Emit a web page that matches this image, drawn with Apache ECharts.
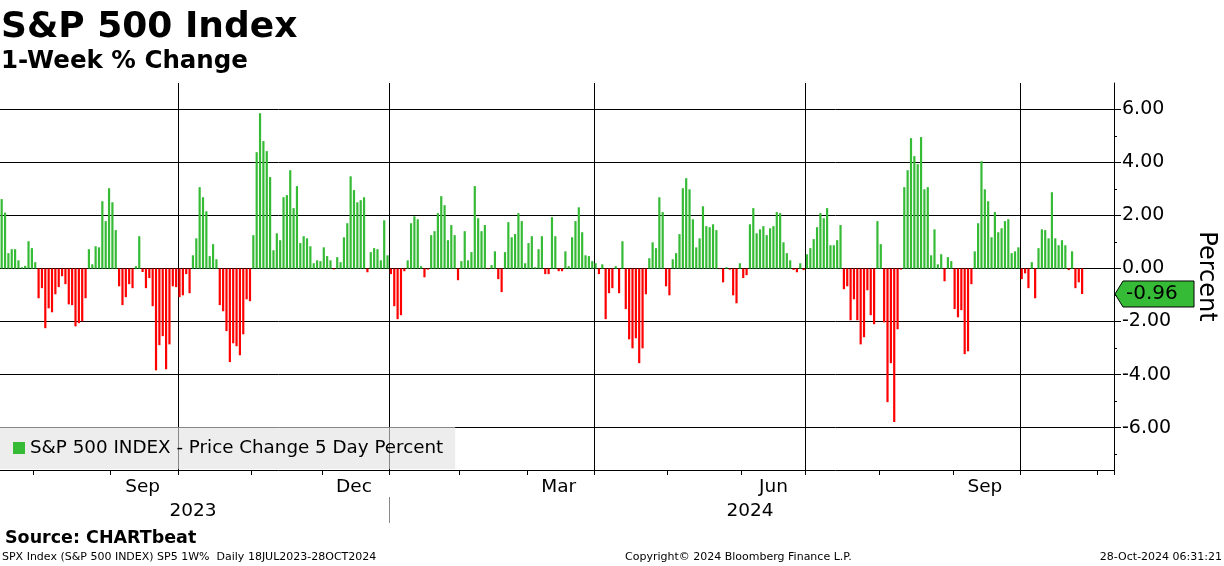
<!DOCTYPE html>
<html><head><meta charset="utf-8">
<script src="https://cdn.jsdelivr.net/npm/echarts@6/dist/echarts.min.js"></script>
<style>html,body{margin:0;padding:0;background:#fff}#c{width:1224px;height:566px}</style>
</head><body><div id="c"></div>
<script>
// ---- data ----
const firstDay = '2023-07-18';
const lastAxisDay = '2024-11-07';
const holidays = ['2023-09-04','2023-11-23','2023-12-25','2024-01-01','2024-01-15','2024-02-19',
  '2024-03-29','2024-05-27','2024-06-19','2024-07-04','2024-09-02'];
const seriesName = 'S&P 500 INDEX - Price Change 5 Day Percent';
// 1-week % change, one value per trading day from 18 Jul 2023 to 25 Oct 2024
const weeklyChange = [
  2.62, 2.11, 0.58, 0.73, 0.73, 0.31, 0.05, 0.10, 1.03, 0.77,
  0.24, -1.12, -0.74, -2.25, -1.50, -1.65, -0.97, -0.70, -0.29, -0.59,
  -1.35, -1.38, -2.18, -2.06, -1.99, -1.12, 0.73, 0.16, 0.84, 0.80,
  2.54, 1.79, 3.03, 2.50, 1.45, -0.67, -1.38, -1.08, -0.59, -0.74,
  0.09, 1.22, -0.13, -0.74, -0.36, -1.42, -3.84, -2.89, -2.55, -3.80,
  -2.86, -0.67, -0.70, -1.08, -1.01, -0.21, -0.93, 0.50, 1.14, 3.07,
  2.69, 2.16, 0.47, 0.92, 0.35, -1.38, -1.61, -2.36, -3.53, -2.82,
  -2.93, -3.27, -2.48, -1.16, -1.23, 1.26, 4.39, 5.86, 4.81, 4.43,
  3.45, 0.69, 1.33, 1.07, 2.69, 2.77, 3.71, 2.28, 3.11, 0.96,
  1.22, 1.14, 0.84, 0.20, 0.31, 0.28, 0.80, 0.47, 0.31, -0.03,
  0.43, 0.24, 1.18, 1.71, 3.48, 2.96, 2.50, 2.58, 2.69, -0.14,
  0.62, 0.77, 0.73, 0.31, 1.82, 0.50, -0.21, -1.42, -1.91, -1.76,
  -0.10, 0.31, 1.71, 1.97, 1.86, 0.09, -0.33, -0.04, 1.26, 1.41,
  2.09, 2.73, 2.39, 1.07, 1.64, 1.26, -0.44, 0.28, 1.41, 0.31,
  0.62, 3.11, 1.90, 1.41, 1.64, -0.02, 0.13, 0.65, -0.40, -0.89,
  0.62, 1.75, 1.18, 1.30, 2.09, 1.79, 0.20, 0.96, 1.22, 0.05,
  0.73, 1.22, -0.21, -0.21, 1.94, 1.22, -0.10, -0.10, 0.65, 0.09,
  1.18, 1.79, 2.31, 1.37, 0.50, 0.47, 0.28, 0.20, -0.21, 0.16,
  -1.91, -0.93, -0.74, 0.09, -0.93, 1.03, -1.53, -2.67, -3.01, -2.63,
  -3.57, -3.01, -0.97, 0.39, 0.99, 0.77, 2.69, 2.13, -0.67, -1.01,
  0.35, 0.58, 1.30, 3.03, 3.41, 2.99, 1.86, 0.80, 1.14, 2.35,
  1.60, 1.56, 1.67, 1.45, -0.02, -0.52, 0.05, -0.04, -1.01, -1.31,
  0.20, -0.36, -0.25, 1.67, 2.28, 1.33, 1.48, 1.60, 1.26, 1.52,
  1.60, 2.13, 2.09, 0.99, 0.58, 0.31, -0.05, -0.14, 0.20, -0.06,
  0.54, 0.77, 1.11, 1.56, 2.09, 1.90, 2.28, 0.88, 0.88, 1.07,
  1.64, -0.78, -0.67, -1.95, -1.16, -1.95, -2.86, -2.59, -0.82, -1.76,
  -2.10, 1.79, 0.92, -2.03, -5.04, -3.57, -5.79, -2.29, -0.04, 3.07,
  3.71, 4.92, 4.24, 3.94, 4.96, 2.99, 3.07, 0.50, 1.48, 0.16,
  0.54, -0.48, 0.43, 0.28, -1.53, -1.84, -1.57, -3.23, -3.12, -0.59,
  0.65, 1.71, 4.05, 2.99, 2.54, 1.18, 2.13, 1.37, 1.52, 1.79,
  1.86, 0.58, 0.65, 0.80, -0.40, -0.18, -0.74, 0.24, -1.12, 0.77,
  1.48, 1.45, 1.14, 2.88, 1.14, 0.88, 1.07, 0.88, -0.06, 0.65,
  -0.74, -0.52, -0.96
];
const yTickValues = [-6, -4, -2, 0, 2, 4, 6];
const yMinorTickValues = [-7, -5, -3, -1, 1, 3, 5];
const labeledMonths = ['09', '12', '03', '06'];
const monthNames = {'03':'Mar','06':'Jun','09':'Sep','12':'Dec'};
const quarterMonths = ['01','04','07','10'];

// ---- categories: trading days ----
function tradingDays(from, to) {
  const out = [];
  let t = Date.parse(from + 'T00:00:00Z');
  const end = Date.parse(to + 'T00:00:00Z');
  while (t <= end) {
    const d = new Date(t);
    const wd = d.getUTCDay();
    const s = d.toISOString().slice(0, 10);
    if (wd !== 0 && wd !== 6 && holidays.indexOf(s) < 0) out.push(s);
    t += 86400000;
  }
  return out;
}
const days = tradingDays(firstDay, lastAxisDay);

const monthStart = new Set(), quarterStart = new Set(), monthLabelIdx = new Set(), yearLabelIdx = new Set();
let yearStart = -1;
const monthGroups = {}, yearGroups = {};
days.forEach((d, i) => {
  const m = d.slice(0, 7), y = d.slice(0, 4);
  (monthGroups[m] = monthGroups[m] || []).push(i);
  (yearGroups[y] = yearGroups[y] || []).push(i);
  if (i > 0 && days[i - 1].slice(0, 7) !== m) {
    monthStart.add(i);
    if (quarterMonths.indexOf(d.slice(5, 7)) >= 0) quarterStart.add(i);
    if (days[i - 1].slice(0, 4) !== y) yearStart = i;
  }
});
Object.keys(monthGroups).forEach(m => {
  if (labeledMonths.indexOf(m.slice(5, 7)) >= 0) {
    const g = monthGroups[m];
    monthLabelIdx.add(g[Math.floor((g.length - 1) / 2)]);
  }
});
Object.keys(yearGroups).forEach(y => {
  const g = yearGroups[y];
  yearLabelIdx.add(g[Math.floor((g.length - 1) / 2)]);
});

const GREEN = '#36bb36', RED = '#ff0000';
const FONT = 'DejaVu Sans';
const chart = echarts.init(document.getElementById('c'), null, {renderer: 'canvas'});
const baseText = {fontFamily: FONT, color: '#000'};

chart.setOption({
  animation: false,
  backgroundColor: '#fff',
  title: [
    {text: 'S&P 500 Index', left: 1, top: 10, padding: 0,
     textStyle: Object.assign({}, baseText, {fontWeight: 'bold', fontSize: 36})},
    {text: '1-Week % Change', left: 1, top: 49, padding: 0,
     textStyle: Object.assign({}, baseText, {fontWeight: 'bold', fontSize: 24.5})},
    {text: 'Source: CHARTbeat', left: 5, top: 529, padding: 0,
     textStyle: Object.assign({}, baseText, {fontWeight: 'bold', fontSize: 17.5})},
    {text: 'SPX Index (S&P 500 INDEX) SP5 1W%  Daily 18JUL2023-28OCT2024', left: 2, top: 552, padding: 0,
     textStyle: Object.assign({}, baseText, {fontWeight: 'normal', fontSize: 11})},
    {text: 'Copyright\u00a9 2024 Bloomberg Finance L.P.', left: 625, top: 552, padding: 0,
     textStyle: Object.assign({}, baseText, {fontWeight: 'normal', fontSize: 11})},
    {text: '28-Oct-2024 06:31:21', right: 2, top: 552, padding: 0,
     textStyle: Object.assign({}, baseText, {fontWeight: 'normal', fontSize: 11})}
  ],
  legend: {
    left: 0, top: 427, padding: [12, 12, 12, 13],
    backgroundColor: 'rgba(225,225,225,0.6)',
    itemWidth: 12, itemHeight: 12, icon: 'rect',
    selectedMode: false,
    textStyle: Object.assign({}, baseText, {fontSize: 18.3}),
    data: [{name: seriesName, itemStyle: {color: GREEN}}]
  },
  grid: {left: 0, right: 110, top: 83, bottom: 96, containLabel: false, outerBoundsMode: 'none'},
  xAxis: [
    {
      type: 'category', data: days, boundaryGap: true, position: 'bottom',
      axisLine: {show: true, onZero: false, lineStyle: {color: '#000', width: 1}},
      axisTick: {show: true, interval: (i) => monthStart.has(i), length: 5, lineStyle: {color: '#000'}},
      axisLabel: {show: true, interval: (i) => monthLabelIdx.has(i),
        formatter: (v) => monthNames[v.slice(5, 7)] || '',
        fontFamily: FONT, fontSize: 18.5, color: '#000', margin: 8},
      splitLine: {show: true, interval: (i) => quarterStart.has(i), lineStyle: {color: '#000', width: 1}}
    },
    {
      type: 'category', data: days, boundaryGap: true, position: 'bottom', offset: 27,
      axisLine: {show: false, onZero: false},
      axisTick: {show: false},
      axisLabel: {show: true, interval: (i) => yearLabelIdx.has(i),
        formatter: (v) => v.slice(0, 4),
        fontFamily: FONT, fontSize: 18.5, color: '#000', margin: 5},
      splitLine: {show: false}
    }
  ],
  yAxis: [
    {
      type: 'value', position: 'right', min: -7.6, max: 7, splitNumber: 7,
      axisLine: {show: true, onZero: false, lineStyle: {color: '#000', width: 1}},
      axisTick: {show: true, length: 7, customValues: yTickValues, lineStyle: {color: '#000'}},
      axisLabel: {show: true, customValues: yTickValues, formatter: (v) => v.toFixed(2),
        fontFamily: FONT, fontSize: 19, color: '#000', margin: 8},
      splitLine: {show: true, lineStyle: {color: '#000', width: 1}},
      name: 'Percent', nameLocation: 'middle', nameRotate: -90, nameGap: 80,
      nameTextStyle: {fontFamily: FONT, fontSize: 24, color: '#000'}
    },
    {
      type: 'value', position: 'right', min: -7.6, max: 7,
      axisLine: {show: false, onZero: false},
      axisTick: {show: true, length: 3, customValues: yMinorTickValues, lineStyle: {color: '#000'}},
      axisLabel: {show: false},
      splitLine: {show: false}
    }
  ],
  series: [{
    type: 'bar', name: seriesName, data: weeklyChange, xAxisIndex: 0, yAxisIndex: 0,
    barWidth: 2.2,
    itemStyle: {color: (p) => (p.value >= 0 ? GREEN : RED)}
  }]
});

// last-value tag on the right axis, and the year separator below the axis
const lastVal = weeklyChange[weeklyChange.length - 1];
const ty = chart.convertToPixel({yAxisIndex: 0}, lastVal);
const tx = chart.getWidth() - 110;
const axisY = chart.getHeight() - 96;
const sepX = Math.round((chart.convertToPixel({xAxisIndex: 0}, days[yearStart]) +
                         chart.convertToPixel({xAxisIndex: 0}, days[yearStart - 1])) / 2) + 0.5;
chart.setOption({
  graphic: [
    {type: 'polygon', z: 100,
     shape: {points: [[tx + 1, ty], [tx + 9, ty - 13], [tx + 80, ty - 13], [tx + 80, ty + 13], [tx + 9, ty + 13]]},
     style: {fill: GREEN, stroke: '#000', lineWidth: 1}},
    {type: 'text', z: 101, x: tx + 12, y: ty,
     style: {text: lastVal.toFixed(2), fill: '#000', fontFamily: FONT, fontSize: 20, verticalAlign: 'middle', align: 'left'}},
    {type: 'line', z: 50,
     shape: {x1: sepX, y1: axisY + 27, x2: sepX, y2: axisY + 53},
     style: {stroke: '#888', lineWidth: 1}}
  ]
});
</script>
</body></html>
